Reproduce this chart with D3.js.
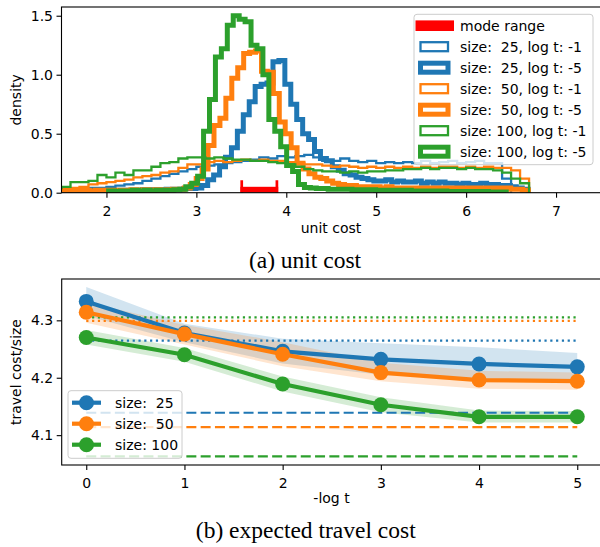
<!DOCTYPE html>
<html>
<head>
<meta charset="utf-8">
<script src="https://cdn.jsdelivr.net/npm/d3@7"></script>
<style>
  body { margin: 0; background: #fff; }
  svg text { font-family: "DejaVu Sans", sans-serif; fill: #000; }
  .caption { font-family: "Liberation Serif", serif; }
</style>
</head>
<body>
<svg id="fig" width="600" height="547"></svg>
<script>
// ---------- data: histograms of unit cost ----------
// log t = -1 runs share bins of width 0.1 starting at 1.4
const THIN_START = 1.4, THIN_W = 0.1;
const dens25_t1 = [0.01,0.01,0.02,0.03,0.04,0.04,0.05,0.06,0.07,0.08,0.10,0.12,0.14,0.16,0.18,0.20,0.22,0.23,0.24,0.25,
  0.26,0.27,0.28,0.30,0.29,0.31,0.30,0.31,0.32,0.30,0.27,0.27,0.29,0.27,0.26,0.27,0.25,0.26,0.25,0.26,
  0.25,0.27,0.25,0.26,0.27,0.25,0.26,0.27,0.25,0.25,0.12];
const dens50_t1 = [0.02,0.03,0.04,0.05,0.07,0.08,0.09,0.10,0.11,0.13,0.14,0.15,0.17,0.18,0.21,0.24,0.24,0.26,0.27,0.26,
  0.27,0.28,0.27,0.28,0.27,0.27,0.26,0.25,0.24,0.24,0.23,0.22,0.23,0.22,0.21,0.22,0.21,0.22,0.21,0.22,
  0.21,0.22,0.21,0.22,0.22,0.21,0.22,0.21,0.22,0.21,0.21,0.19,0.12];
const dens100_t1 = [0.04,0.05,0.09,0.09,0.10,0.15,0.13,0.17,0.15,0.19,0.19,0.22,0.25,0.26,0.29,0.30,0.30,0.29,0.30,0.29,
  0.28,0.28,0.27,0.27,0.26,0.25,0.24,0.22,0.20,0.19,0.18,0.18,0.17,0.18,0.17,0.18,0.18,0.19,0.19,0.20,
  0.20,0.21,0.20,0.21,0.21,0.20,0.21,0.20,0.20,0.19,0.17,0.12,0.08];

// log t = -5 runs use bins of width 0.066
const THICK_W = 0.066;
const start25_t5 = 1.476, start50_t5 = 1.48, start100_t5 = 2.024;
const dens25_t5 = [0.005,0.01,0.01,0.01,0.01,0.015,0.015,0.015,0.015,0.02,0.02,0.02,0.02,0.02,0.025,0.025,0.025,0.025,0.03,0.03,
  0.03,0.035,0.035,0.04,0.06,0.11,0.15,0.22,0.30,0.38,0.52,0.66,0.77,0.90,0.92,0.93,1.11,1.12,0.92,0.75,
  0.62,0.50,0.45,0.35,0.29,0.27,0.22,0.19,0.16,0.15,0.13,0.12,0.11,0.10,0.10,0.11,0.09,0.10,0.09,0.09,
  0.10,0.08,0.09,0.08,0.09,0.08,0.08,0.07,0.08,0.07,0.07,0.08,0.07,0.07,0.06,0.06,0.05,0.04,0.03];
const dens50_t5 = [0.02,0.015,0.02,0.02,0.02,0.015,0.02,0.02,0.02,0.02,0.02,0.02,0.025,0.02,0.025,0.02,0.025,0.02,0.025,0.03,
  0.03,0.04,0.07,0.12,0.20,0.40,0.57,0.63,0.80,0.97,1.06,1.18,1.19,1.20,1.03,1.02,0.84,0.60,0.50,0.38,
  0.25,0.20,0.16,0.13,0.12,0.10,0.08,0.07,0.06,0.06,0.05,0.05,0.05,0.05,0.04,0.05,0.04,0.04,0.04,0.04,
  0.04,0.04,0.04,0.04,0.04,0.04,0.04,0.04,0.04,0.04,0.04,0.04,0.04,0.04,0.04,0.04,0.03,0.03,0.02];
const dens100_t5 = [0.015,0.01,0.015,0.015,0.02,0.015,0.02,0.015,0.02,0.02,0.02,0.025,0.03,0.05,0.08,0.14,0.52,0.79,1.15,1.22,
  1.42,1.50,1.47,1.45,1.25,1.22,1.00,0.62,0.52,0.39,0.23,0.18,0.07,0.045,0.04,0.035,0.035,0.03,0.03,0.03,
  0.03,0.025,0.025,0.025,0.025,0.02,0.02,0.02,0.02,0.02,0.02,0.015,0.015,0.015,0.015,0.015,0.015,0.01,0.01,0.01,
  0.01,0.01,0.01,0.01,0.005,0.005,0.005];

const MODE_RANGE = [3.49, 3.91];
const MODE_BAR = 0.05, MODE_CAP = 0.105;

const HIST_LABELS = ["size:  25, log t: -1", "size:  25, log t: -5", "size:  50, log t: -1",
                     "size:  50, log t: -5", "size: 100, log t: -1", "size: 100, log t: -5"];
const TOP_XTICKS = [2, 3, 4, 5, 6, 7];
const TOP_YTICKS = [0.0, 0.5, 1.0, 1.5];

// ---------- data: expected travel cost ----------
const LOGT = [0, 1, 2, 3, 4, 5];
const SIZES = ["size:  25", "size:  50", "size: 100"];
const cost25 = [4.333, 4.278, 4.246, 4.232, 4.224, 4.219];
const cost50 = [4.314, 4.276, 4.241, 4.209, 4.196, 4.194];
const cost100 = [4.270, 4.240, 4.189, 4.153, 4.132, 4.132];
const lo25 = [4.308, 4.262, 4.225, 4.205, 4.198, 4.194];
const hi25 = [4.358, 4.294, 4.268, 4.260, 4.253, 4.243];
const lo50 = [4.296, 4.258, 4.220, 4.194, 4.181, 4.179];
const hi50 = [4.332, 4.292, 4.262, 4.226, 4.212, 4.209];
const lo100 = [4.258, 4.228, 4.176, 4.140, 4.122, 4.122];
const hi100 = [4.283, 4.252, 4.202, 4.166, 4.143, 4.142];
const dottedRef = [4.2645, 4.299, 4.305];   // 25, 50, 100
const dashedRef = [4.139, 4.114, 4.063];
const BOT_XTICKS = [0, 1, 2, 3, 4, 5];
const BOT_YTICKS = [4.1, 4.2, 4.3];

const BLUE = "#1f77b4", ORANGE = "#ff7f0e", GREEN = "#2ca02c", RED = "#ff0000";
const COLORS = [BLUE, ORANGE, GREEN];
const THIN_LW = 2.3, THICK_LW = 5;

const svg = d3.select("#fig");

// ===================== (a) unit cost =====================
const TOP = {left: 61.5, right: 601, top: 7, bottom: 192.7};
const xTop = d3.scaleLinear().domain([1.5, 7.5]).range([TOP.left, TOP.right]);
const yTop = d3.scaleLinear().domain([0, 1.574]).range([TOP.bottom, TOP.top]);

svg.append("clipPath").attr("id", "clipTop")
  .append("rect").attr("x", TOP.left).attr("y", TOP.top)
  .attr("width", TOP.right - TOP.left).attr("height", TOP.bottom - TOP.top);

function stepPoints(x0, w, dens) {
  const pts = [[x0, 0]];
  dens.forEach((d, i) => { pts.push([x0 + i * w, d]); pts.push([x0 + (i + 1) * w, d]); });
  pts.push([x0 + dens.length * w, 0]);
  return pts;
}
const histLine = d3.line().x(d => xTop(d[0])).y(d => yTop(d[1]));

const hists = [
  {x0: THIN_START, w: THIN_W, dens: dens25_t1, color: BLUE, lw: THIN_LW},
  {x0: start25_t5, w: THICK_W, dens: dens25_t5, color: BLUE, lw: THICK_LW},
  {x0: THIN_START, w: THIN_W, dens: dens50_t1, color: ORANGE, lw: THIN_LW},
  {x0: start50_t5, w: THICK_W, dens: dens50_t5, color: ORANGE, lw: THICK_LW},
  {x0: THIN_START, w: THIN_W, dens: dens100_t1, color: GREEN, lw: THIN_LW},
  {x0: start100_t5, w: THICK_W, dens: dens100_t5, color: GREEN, lw: THICK_LW}
];

const gTop = svg.append("g").attr("clip-path", "url(#clipTop)");
hists.forEach(h => {
  gTop.append("path")
    .attr("d", histLine(stepPoints(h.x0, h.w, h.dens)))
    .attr("fill", "none").attr("stroke", h.color)
    .attr("stroke-width", h.lw).attr("stroke-linejoin", "miter");
});

// mode range marker
gTop.append("rect")
  .attr("x", xTop(MODE_RANGE[0])).attr("width", xTop(MODE_RANGE[1]) - xTop(MODE_RANGE[0]))
  .attr("y", yTop(MODE_BAR)).attr("height", yTop(0) - yTop(MODE_BAR))
  .attr("fill", RED);
MODE_RANGE.forEach((m, i) => {
  gTop.append("line")
    .attr("x1", xTop(m) + (i === 0 ? 1.3 : -1.3)).attr("x2", xTop(m) + (i === 0 ? 1.3 : -1.3))
    .attr("y1", yTop(0)).attr("y2", yTop(MODE_CAP))
    .attr("stroke", RED).attr("stroke-width", 2.7);
});

// axes
svg.append("g").attr("transform", `translate(0,${TOP.bottom})`)
  .call(d3.axisBottom(xTop).tickValues(TOP_XTICKS).tickFormat(d3.format("d")).tickSize(5).tickPadding(8));
svg.append("g").attr("transform", `translate(${TOP.left},0)`)
  .call(d3.axisLeft(yTop).tickValues(TOP_YTICKS).tickFormat(d3.format(".1f")).tickSize(5).tickPadding(3.5));

svg.append("rect").attr("x", TOP.left).attr("y", TOP.top)
  .attr("width", TOP.right - TOP.left).attr("height", TOP.bottom - TOP.top)
  .attr("fill", "none").attr("stroke", "#000").attr("stroke-width", 1.1);

svg.append("text").attr("x", 331).attr("y", 233).attr("text-anchor", "middle")
  .style("font-size", "14px").text("unit cost");
svg.append("text").attr("transform", `translate(21,${(TOP.top + TOP.bottom) / 2}) rotate(-90)`)
  .attr("text-anchor", "middle").style("font-size", "14px").text("density");

// legend (a)
const legA = svg.append("g");
legA.append("rect").attr("x", 414).attr("y", 14.3).attr("width", 179).attr("height", 150.4)
  .attr("rx", 3).attr("fill", "#fff").attr("fill-opacity", 0.8)
  .attr("stroke", "#cccccc").attr("stroke-width", 1);
const rowA = i => 25.7 + 21 * i;
legA.append("rect").attr("x", 415.5).attr("y", rowA(0) - 5.3).attr("width", 38.5).attr("height", 10.6)
  .attr("fill", RED);
legA.append("text").attr("x", 460).attr("y", rowA(0) + 5).style("font-size", "14px").text("mode range");
hists.forEach((h, i) => {
  const cy = rowA(i + 1);
  legA.append("rect").attr("x", 420.5).attr("y", cy - 4.5).attr("width", 27.5).attr("height", 9)
    .attr("fill", "none").attr("stroke", h.color).attr("stroke-width", h.lw);
  legA.append("text").attr("x", 460).attr("y", cy + 5).style("font-size", "14px")
    .style("white-space", "pre").text(HIST_LABELS[i]);
});

svg.append("text").attr("class", "caption").attr("x", 305).attr("y", 268)
  .attr("text-anchor", "middle").style("font-size", "23.5px").text("(a) unit cost");

// ===================== (b) expected travel cost =====================
const BOT = {left: 61.7, right: 601.8, top: 279, bottom: 465};
const xBot = d3.scaleLinear().domain([-0.25, 5.25]).range([BOT.left, BOT.right]);
const yBot = d3.scaleLinear().domain([4.048, 4.372]).range([BOT.bottom, BOT.top]);

svg.append("clipPath").attr("id", "clipBot")
  .append("rect").attr("x", BOT.left).attr("y", BOT.top)
  .attr("width", BOT.right - BOT.left).attr("height", BOT.bottom - BOT.top);
const gBot = svg.append("g").attr("clip-path", "url(#clipBot)");

const series = [
  {cost: cost25, lo: lo25, hi: hi25, color: BLUE},
  {cost: cost50, lo: lo50, hi: hi50, color: ORANGE},
  {cost: cost100, lo: lo100, hi: hi100, color: GREEN}
];

const band = d3.area().x((d, i) => xBot(LOGT[i])).y0(d => yBot(d[0])).y1(d => yBot(d[1]));
series.forEach(s => {
  gBot.append("path").datum(s.lo.map((v, i) => [v, s.hi[i]]))
    .attr("d", band).attr("fill", s.color).attr("fill-opacity", 0.2);
});

// reference levels
COLORS.forEach((c, i) => {
  gBot.append("line").attr("x1", xBot(0)).attr("x2", xBot(5))
    .attr("y1", yBot(dottedRef[i])).attr("y2", yBot(dottedRef[i]))
    .attr("stroke", c).attr("stroke-width", 2.2).attr("stroke-dasharray", "2.2,3.6");
  gBot.append("line").attr("x1", xBot(0)).attr("x2", xBot(5))
    .attr("y1", yBot(dashedRef[i])).attr("y2", yBot(dashedRef[i]))
    .attr("stroke", c).attr("stroke-width", 2.2).attr("stroke-dasharray", "10,4.3");
});

const costLine = d3.line().x((d, i) => xBot(LOGT[i])).y(d => yBot(d));
series.forEach(s => {
  gBot.append("path").datum(s.cost).attr("d", costLine)
    .attr("fill", "none").attr("stroke", s.color).attr("stroke-width", 4.2);
  gBot.selectAll(null).data(s.cost).enter().append("circle")
    .attr("cx", (d, i) => xBot(LOGT[i])).attr("cy", d => yBot(d))
    .attr("r", 7.5).attr("fill", s.color);
});

svg.append("g").attr("transform", `translate(0,${BOT.bottom})`)
  .call(d3.axisBottom(xBot).tickValues(BOT_XTICKS).tickFormat(d3.format("d")).tickSize(5).tickPadding(8));
svg.append("g").attr("transform", `translate(${BOT.left},0)`)
  .call(d3.axisLeft(yBot).tickValues(BOT_YTICKS).tickFormat(d3.format(".1f")).tickSize(5).tickPadding(3.5));

svg.append("rect").attr("x", BOT.left).attr("y", BOT.top)
  .attr("width", BOT.right - BOT.left).attr("height", BOT.bottom - BOT.top)
  .attr("fill", "none").attr("stroke", "#000").attr("stroke-width", 1.1);

svg.append("text").attr("x", 331.5).attr("y", 503.3).attr("text-anchor", "middle")
  .style("font-size", "14px").text("-log t");
svg.append("text").attr("transform", `translate(21,${(BOT.top + BOT.bottom) / 2}) rotate(-90)`)
  .attr("text-anchor", "middle").style("font-size", "14px").text("travel cost/size");

// legend (b)
const legB = svg.append("g");
legB.append("rect").attr("x", 68).attr("y", 390.7).attr("width", 114).attr("height", 67.6)
  .attr("rx", 3).attr("fill", "#fff").attr("fill-opacity", 0.8)
  .attr("stroke", "#cccccc").attr("stroke-width", 1);
SIZES.forEach((lab, i) => {
  const cy = 402.7 + 21 * i;
  legB.append("line").attr("x1", 72).attr("x2", 101).attr("y1", cy).attr("y2", cy)
    .attr("stroke", COLORS[i]).attr("stroke-width", 4.2);
  legB.append("circle").attr("cx", 86.5).attr("cy", cy).attr("r", 7.5).attr("fill", COLORS[i]);
  legB.append("text").attr("x", 115).attr("y", cy + 5).style("font-size", "14px")
    .style("white-space", "pre").text(lab);
});

svg.append("text").attr("class", "caption").attr("x", 305.8).attr("y", 538)
  .attr("text-anchor", "middle").style("font-size", "23.5px").text("(b) expected travel cost");

// axis styling like matplotlib
svg.selectAll(".domain").remove();
svg.selectAll(".tick text").style("font-size", "14px").style("font-family", "DejaVu Sans");
svg.selectAll(".tick line").attr("stroke", "#000").attr("stroke-width", 1.1);
</script>
</body>
</html>
